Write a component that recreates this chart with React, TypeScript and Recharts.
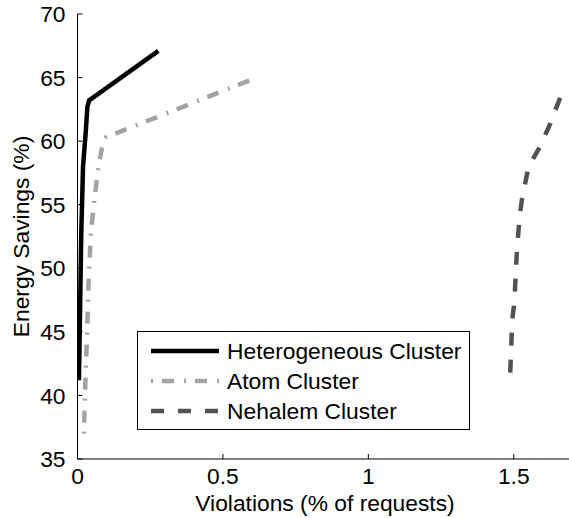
import React from "react";
import { LineChart, Line, XAxis, YAxis, Legend } from "recharts";

const xTicks = [0, 0.5, 1, 1.5];
const yTicks = [35, 40, 45, 50, 55, 60, 65, 70];

const heteroX = [0.005, 0.009, 0.013, 0.016, 0.019, 0.024, 0.028, 0.034, 0.04, 0.278];
const heteroY = [41.2, 47, 52.8, 55.4, 58, 59.5, 60.6, 62.7, 63.2, 67.1];

const atomX = [0.022, 0.027, 0.033, 0.038, 0.046, 0.058, 0.072, 0.087, 0.098, 0.594];
const atomY = [37, 41, 44.9, 48.8, 52.8, 55.4, 58, 59.8, 60.3, 64.8];

const nehalemX = [1.488, 1.495, 1.502, 1.511, 1.52, 1.528, 1.551, 1.591, 1.626, 1.666, 1.683];
const nehalemY = [41.8, 46, 47.3, 51.4, 54, 55.4, 58, 59.6, 61.4, 63.8, 64.3];

const seriesNames = ["Heterogeneous Cluster", "Atom Cluster", "Nehalem Cluster"];

const build = (xs: number[], ys: number[]) => xs.map((x, i) => ({ x, y: ys[i] }));

const heteroData = build(heteroX, heteroY);
const atomData = build(atomX, atomY);
const nehalemData = build(nehalemX, nehalemY);

const FONT = "'Liberation Sans', Arial, Helvetica, sans-serif";
const FS = 22.8;

const styles = [
  { stroke: "#000000", width: 4.5, dash: undefined as string | undefined },
  { stroke: "#a3a3a3", width: 4.5, dash: "2 9 12 10" },
  { stroke: "#525252", width: 4.5, dash: "13 14" },
];

const XTick = (props: any) => {
  const { x, y, payload } = props;
  return (
    <g>
      <line x1={x} x2={x} y1={y} y2={y - 5} stroke="#000" strokeWidth={1} />
      <text x={x} y={y + 25} textAnchor="middle" fontSize={FS} fontFamily={FONT} fill="#000">
        {payload.value}
      </text>
    </g>
  );
};

const YTick = (props: any) => {
  const { x, y, payload } = props;
  return (
    <g>
      <line x1={x} x2={x + 5} y1={y} y2={y} stroke="#000" strokeWidth={1} />
      <text x={x - 12} y={y} dy="0.36em" textAnchor="end" fontSize={FS} fontFamily={FONT} fill="#000">
        {payload.value}
      </text>
    </g>
  );
};

const LegendBox = () => {
  const w = 333;
  const h = 99;
  const rows = [20, 50, 80];
  return (
    <svg width={w} height={h} style={{ display: "block" }}>
      <rect x={0.5} y={0.5} width={w - 1} height={h - 1} fill="#fff" stroke="#000" strokeWidth={1} />
      {seriesNames.map((name, i) => (
        <g key={name}>
          <line
            x1={14}
            x2={82}
            y1={rows[i]}
            y2={rows[i]}
            stroke={styles[i].stroke}
            strokeWidth={styles[i].width}
            strokeDasharray={styles[i].dash}
          />
          <text x={90} y={rows[i]} dy="0.36em" fontSize={FS} fontFamily={FONT} fill="#000">
            {name}
          </text>
        </g>
      ))}
    </svg>
  );
};

export default function App() {
  return (
    <div style={{ position: "absolute", left: 0, top: 0, background: "#fff" }}>
      <LineChart width={569} height={518} margin={{ top: 14, right: 0, bottom: 0, left: 0 }}>
        <XAxis
          type="number"
          dataKey="x"
          domain={[0, 1.69]}
          ticks={xTicks}
          allowDataOverflow
          height={59}
          tickSize={0}
          tickMargin={0}
          tickLine={false}
          axisLine={{ stroke: "#000", strokeWidth: 1 }}
          tick={<XTick />}
          label={{
            content: (p: any) => {
              const vb = p.viewBox;
              return (
                <text x={325} y={vb.y + 52} textAnchor="middle" fontSize={FS} fontFamily={FONT} fill="#000">
                  Violations (% of requests)
                </text>
              );
            },
          }}
        />
        <YAxis
          type="number"
          dataKey="y"
          domain={[35, 70]}
          ticks={yTicks}
          allowDataOverflow
          width={77.5}
          tickSize={0}
          tickMargin={0}
          tickLine={false}
          axisLine={{ stroke: "#000", strokeWidth: 1 }}
          tick={<YTick />}
          label={{
            content: (p: any) => {
              const vb = p.viewBox;
              const cy = vb.y + vb.height / 2;
              return (
                <text
                  x={29}
                  y={cy}
                  transform={`rotate(-90, 29, ${cy})`}
                  textAnchor="middle"
                  fontSize={FS}
                  fontFamily={FONT}
                  fill="#000"
                >
                  Energy Savings (%)
                </text>
              );
            },
          }}
        />
        <Legend
          layout="horizontal"
          verticalAlign="middle"
          align="center"
          content={<LegendBox />}
          wrapperStyle={{ position: "absolute", left: 137, top: 331, width: 333, height: 99 }}
        />
        <Line
          data={heteroData}
          dataKey="y"
          name={seriesNames[0]}
          type="linear"
          stroke={styles[0].stroke}
          strokeWidth={styles[0].width}
          dot={false}
          activeDot={false}
          isAnimationActive={false}
          strokeLinejoin="miter"
        />
        <Line
          data={atomData}
          dataKey="y"
          name={seriesNames[1]}
          type="linear"
          stroke={styles[1].stroke}
          strokeWidth={styles[1].width}
          strokeDasharray={styles[1].dash}
          dot={false}
          activeDot={false}
          isAnimationActive={false}
        />
        <Line
          data={nehalemData}
          dataKey="y"
          name={seriesNames[2]}
          type="linear"
          stroke={styles[2].stroke}
          strokeWidth={styles[2].width}
          strokeDasharray={styles[2].dash}
          dot={false}
          activeDot={false}
          isAnimationActive={false}
        />
      </LineChart>
    </div>
  );
}
